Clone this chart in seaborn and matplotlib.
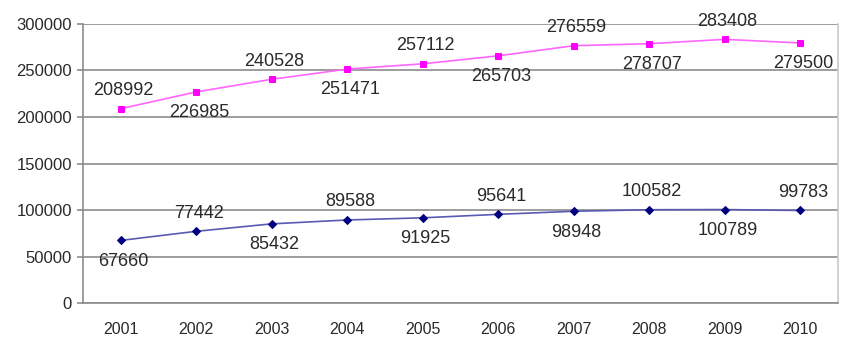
import matplotlib
matplotlib.use("Agg")
import matplotlib.pyplot as plt
import seaborn as sns
import pandas as pd
import numpy as np

years = ["2001", "2002", "2003", "2004", "2005", "2006", "2007", "2008", "2009", "2010"]
pink_values = [208992, 226985, 240528, 251471, 257112, 265703, 276559, 278707, 283408, 279500]
blue_values = [67660, 77442, 85432, 89588, 91925, 95641, 98948, 100582, 100789, 99783]
y_ticks = [0, 50000, 100000, 150000, 200000, 250000, 300000]

sns.set_theme(style="white")
plt.rcParams['font.family'] = ['Liberation Sans', 'DejaVu Sans']

fig = plt.figure(figsize=(8.51, 3.41), dpi=100)
ax = fig.add_axes([0.0975, 0.11, 0.887, 0.82])

df = pd.DataFrame({"year": years, "pink": pink_values, "blue": blue_values})
df["x"] = np.arange(len(years))

grid_c = "#8c8c8c"
for v in y_ticks:
    ax.axhline(v, color=grid_c, lw=1.2, zorder=0)

sns.lineplot(data=df, x="x", y="pink", ax=ax, color="#ff66ff", lw=1.2,
             marker="s", markersize=5, markerfacecolor="#ff00ff", markeredgecolor="#ff00ff")
sns.lineplot(data=df, x="x", y="blue", ax=ax, color="#5a5ab4", lw=1.2,
             marker="D", markersize=4.5, markerfacecolor="#000080", markeredgecolor="#000080")

text_c = "#2a2a2a"
for i, (xv, pv, bv) in enumerate(zip(df["x"], pink_values, blue_values)):
    po = 13 if i % 2 == 0 else -15
    bo = -15 if i % 2 == 0 else 13
    ax.annotate(f"{pv}", (xv, pv), xytext=(2, po), textcoords="offset points",
                ha="center", va="center", fontsize=13, color=text_c)
    ax.annotate(f"{bv}", (xv, bv), xytext=(2, bo), textcoords="offset points",
                ha="center", va="center", fontsize=13, color=text_c)

ax.set_xlim(-0.5, 9.5)
ax.set_ylim(0, 300000)
ax.set_yticks(y_ticks)
ax.set_yticklabels([str(v) for v in y_ticks])
ax.set_xticks(df["x"])
ax.set_xticklabels(years)
ax.set_xticks(np.arange(-0.5, 10, 1), minor=True)
ax.tick_params(axis="x", which="major", length=0, pad=13, labelsize=11.5, colors=text_c)
ax.tick_params(axis="x", which="minor", length=5, width=1.2, color=grid_c, direction="out")
ax.tick_params(axis="y", length=4, width=1.2, color=grid_c, pad=4, labelsize=12, labelcolor=text_c, left=True)
ax.set_xlabel("")
ax.set_ylabel("")

for side in ["left", "right", "bottom"]:
    ax.spines[side].set_color(grid_c)
    ax.spines[side].set_linewidth(1.2)
ax.spines["top"].set_visible(False)
ax.spines["right"].set_color("#c8c8c8")

fig.savefig("out.png", dpi=100)
